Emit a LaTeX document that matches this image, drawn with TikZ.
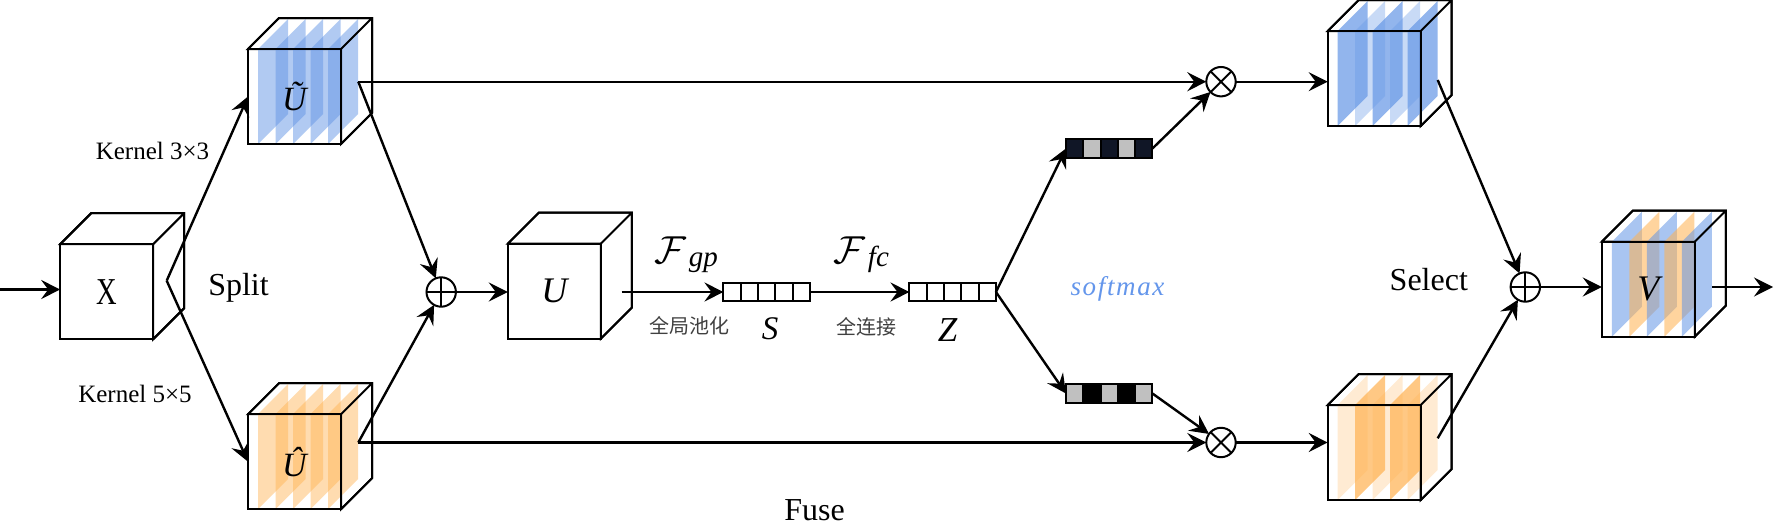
\RequirePackage{fix-cm}
\documentclass[tikz,border=0pt]{standalone}
\usepackage{fontspec}
\setmainfont{Liberation Serif}
\newfontfamily\cjk{Noto Sans CJK SC}
\newfontfamily\spaced[LetterSpace=6]{Liberation Serif}
\usetikzlibrary{arrows.meta,calc}
\definecolor{sblue}{RGB}{100,150,230}
\definecolor{sorange}{RGB}{255,178,80}
\definecolor{navy}{RGB}{16,22,38}
\definecolor{cgray}{RGB}{192,192,192}
\definecolor{smblue}{RGB}{100,150,235}
\tikzset{
  edge/.style={line width=1pt, line join=miter},
  conn/.style={line width=1.2pt, -{Stealth[length=9.5pt,width=9.5pt,inset=3.5pt]}},
  frontface/.style={draw, line width=1pt, fill=white, minimum width=46.5pt, minimum height=47.5pt, inner sep=0pt, outer sep=0pt},
  vecbox/.style={draw, line width=1pt, minimum width=43.25pt, minimum height=9.2pt, inner sep=0pt, outer sep=0pt},
  opcirc/.style={circle, draw, line width=1pt, minimum size=14.7pt, inner sep=0pt, outer sep=0pt},
  oplus/.style={opcirc, path picture={\draw[line width=1pt] (path picture bounding box.north) -- (path picture bounding box.south) (path picture bounding box.west) -- (path picture bounding box.east);}},
  otimes/.style={opcirc, path picture={\draw[line width=1pt] (path picture bounding box.north west) -- (path picture bounding box.south east) (path picture bounding box.north east) -- (path picture bounding box.south west);}},
  lbl/.style={inner sep=0pt, outer sep=0pt},
}
\newcommand{\drawcube}[3]{%
  \node[frontface] (#1) at (#2) {};
  \draw[edge, fill=white] (#1.north west) -- ++(31,-31) -- ++(93,0) -- ++(0,95) -- ++(-31,31) -- (#1.north east) -- cycle;
  #3
  \draw[edge] (#1.north west) rectangle (#1.south east);
  \draw[edge] (#1.north west) -- ++(31,-31) -- ++(93,0) -- ++(0,95) -- ++(-31,31) (#1.north east) -- ++(31,-31);
}
\newcommand{\slicep}[4]{%
  \fill[#3, fill opacity=#4] ($(#1.south west)+({10+17.5*#2},0)$) -- ++(30,-30) -- ++(0,-95) -- ++(-30,30) -- cycle;}
\newcommand{\cellvec}[3]{%
  \node[vecbox] (#1) at (#2) {};
  \foreach \c [count=\i from 0] in {#3} {
    \draw[edge, fill=\c] ($(#1.north west)+({17.3*\i},0)$) rectangle ++(17.3,18.4);
  }
}
\newcommand{\fop}[1]{{\fontsize{19.5pt}{22pt}\selectfont$\mathcal{F}$}\kern1.5pt\raisebox{-1.7pt}{\fontsize{14.5pt}{17pt}\selectfont\itshape #1}}
\begin{document}
\begin{tikzpicture}[x=0.5pt, y=-0.5pt]
\useasboundingbox (0,0) rectangle (1774,530);

% cubes
\drawcube{X}{106.7,291.7}{}
\drawcube{Ut}{294.5,96.5}{%
  \slicep{Ut}{0}{sblue}{0.5}\slicep{Ut}{1}{sblue}{0.5}\slicep{Ut}{2}{sblue}{0.5}\slicep{Ut}{3}{sblue}{0.5}\slicep{Ut}{4}{sblue}{0.5}}
\drawcube{Ub}{294.5,461.7}{%
  \slicep{Ub}{0}{sorange}{0.45}\slicep{Ub}{1}{sorange}{0.45}\slicep{Ub}{2}{sorange}{0.45}\slicep{Ub}{3}{sorange}{0.45}\slicep{Ub}{4}{sorange}{0.45}}
\drawcube{U}{554.3,291.2}{}
\drawcube{TR}{1374.2,78.5}{%
  \slicep{TR}{0}{sblue}{0.7}\slicep{TR}{1}{sblue}{0.35}\slicep{TR}{2}{sblue}{0.7}\slicep{TR}{3}{sblue}{0.35}\slicep{TR}{4}{sblue}{0.7}}
\drawcube{BR}{1374.2,452.5}{%
  \slicep{BR}{0}{sorange}{0.25}\slicep{BR}{1}{sorange}{0.7}\slicep{BR}{2}{sorange}{0.25}\slicep{BR}{3}{sorange}{0.7}\slicep{BR}{4}{sorange}{0.25}}
\drawcube{V}{1648.3,289.2}{%
  \slicep{V}{0}{sblue}{0.55}\slicep{V}{1}{sorange}{0.55}\slicep{V}{2}{sblue}{0.55}\slicep{V}{3}{sorange}{0.55}\slicep{V}{4}{sblue}{0.55}}

% cube labels
\node[lbl, font=\fontsize{19pt}{22pt}\selectfont] (Xl) at (X) {\scalebox{0.75}[1]{X}};
\node[lbl, font=\fontsize{17pt}{20pt}\itshape] (Utl) at (Ut) {Ũ};
\node[lbl, font=\fontsize{17pt}{20pt}\itshape] (Ubl) at (Ub) {Û};
\node[lbl, font=\fontsize{18pt}{21pt}\itshape] (Ul) at (U) {U};
\node[lbl, font=\fontsize{18pt}{21pt}\itshape] (Vl) at (V) {V};

% vectors
\cellvec{S}{766.7,292}{white,white,white,white,white}
\cellvec{Z}{952.7,292}{white,white,white,white,white}
\cellvec{A1}{1109.2,148.5}{navy,cgray,navy,cgray,navy}
\cellvec{A2}{1109.2,393.5}{cgray,black,cgray,black,cgray}

% operators
\node[oplus] (plus1) at (441.2,292) {};
\node[otimes] (m1) at (1221,81.7) {};
\node[otimes] (m2) at (1221,442.5) {};
\node[oplus] (plus2) at (1525.3,287) {};

% free ends
\coordinate (in) at (0,289.5);
\coordinate (sp) at (166.7,280.7);
\coordinate (Ut-o) at (358.3,81.7);
\coordinate (Ub-o) at (358.3,442.5);
\coordinate (U-o) at (621.7,292);
\coordinate (TR-o) at (1437.7,80);
\coordinate (BR-o) at (1437.7,438.3);
\coordinate (V-o) at (1712.3,287);
\coordinate (out) at (1773,287);

% connectors
\draw[conn] (in) -- (in -| X.west);
\draw[conn] (sp) -- (Ut.west);
\draw[conn] (sp) -- (Ub.west);
\draw[conn] (Ut-o) -- (plus1);
\draw[conn] (Ub-o) -- (plus1);
\draw[conn] (plus1) -- (plus1 -| U.west);
\draw[conn] (U-o) -- (S.west);
\draw[conn] (S.east) -- (Z.west);
\draw[conn] (Z.east) -- (A1.west);
\draw[conn] (Z.east) -- (A2.west);
\draw[conn] (Ut-o) -- (m1);
\draw[conn] (Ub-o) -- (m2);
\draw[conn] (A1.east) -- (m1);
\draw[conn] (A2.east) -- (m2);
\draw[conn] (m1) -- (m1 -| TR.west);
\draw[conn] (m2) -- (m2 -| BR.west);
\draw[conn] (TR-o) -- (plus2);
\draw[conn] (BR-o) -- (plus2);
\draw[conn] (plus2) -- (plus2 -| V.west);
\draw[conn] (V-o) -- (out);

% labels
\node[lbl, font=\fontsize{12.5pt}{15pt}\selectfont, anchor=base] (k3) at (152.5,159.3) {Kernel 3×3};
\node[lbl, font=\fontsize{12.5pt}{15pt}\selectfont, anchor=base] (k5) at (135,402.7) {Kernel 5×5};
\node[lbl, font=\fontsize{16pt}{19pt}\selectfont, anchor=base] (split) at (238.5,295) {Split};
\node[lbl, font=\fontsize{16pt}{19pt}\selectfont, anchor=base] (fuse) at (814.5,520) {Fuse};
\node[lbl, font=\fontsize{16pt}{19pt}\selectfont, anchor=base] (select) at (1428.8,290) {Select};
\node[lbl, anchor=base] (fgp) at (686,263) {\fop{gp}};
\node[lbl, anchor=base] (ffc) at (861,263) {\fop{fc}};
\node[lbl, text=black!75, font=\fontsize{10pt}{12pt}\cjk] (cn1) at (689,326) {全局池化};
\node[lbl, text=black!75, font=\fontsize{10pt}{12pt}\cjk] (cn2) at (866.7,326.7) {全连接};
\node[lbl, font=\fontsize{16.5pt}{19pt}\itshape] (Sl) at (770,329) {S};
\node[lbl, font=\fontsize{17.5pt}{20pt}\itshape] (Zl) at (947.5,330) {Z};
\node[lbl, text=smblue, font=\fontsize{13.5pt}{16pt}\spaced\itshape, anchor=base] (sm) at (1117.5,295) {softmax};
\end{tikzpicture}
\end{document}
